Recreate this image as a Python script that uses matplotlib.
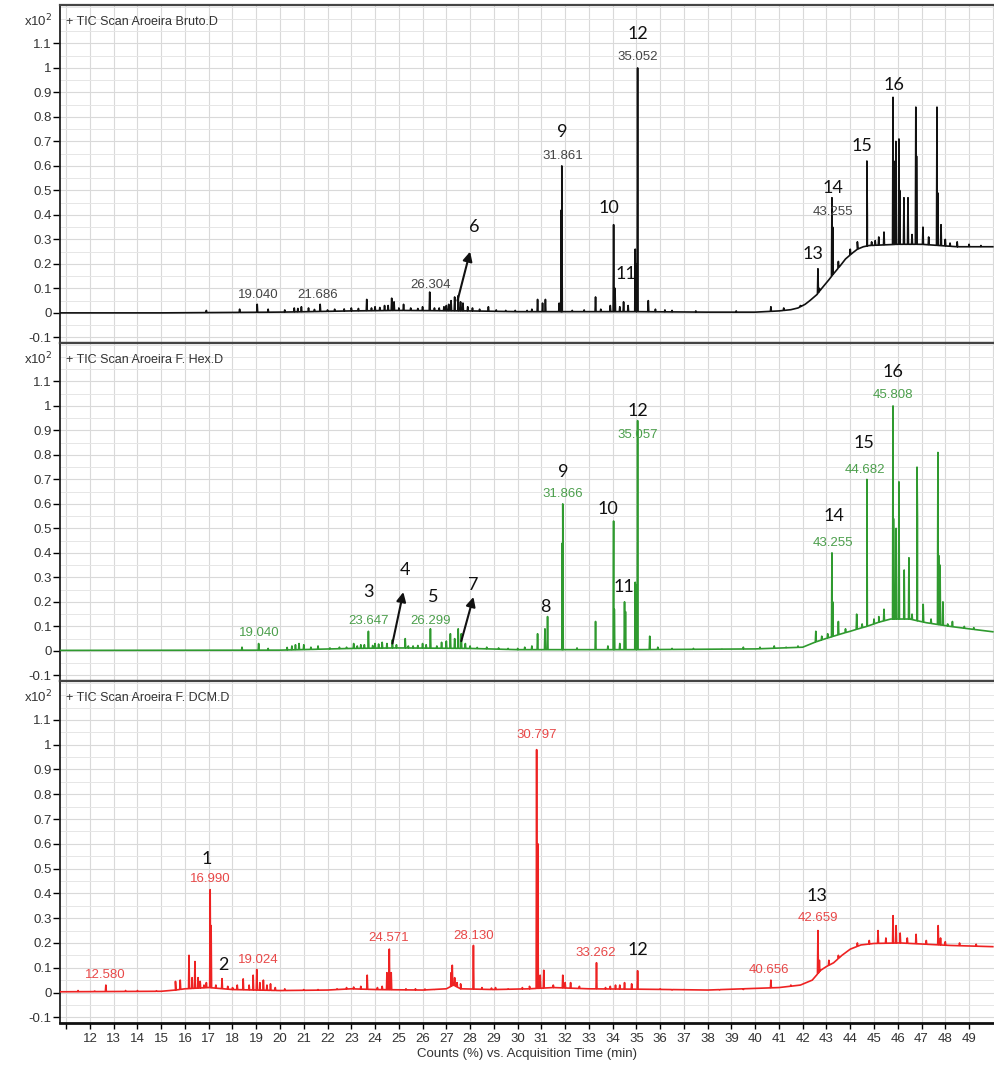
import numpy as np
import matplotlib
matplotlib.use("Agg")
import matplotlib.pyplot as plt
from matplotlib.ticker import MultipleLocator, FuncFormatter

plt.rcParams["font.family"] = ["Liberation Sans", "DejaVu Sans"]
plt.rcParams["axes.unicode_minus"] = False

# ---- data (retention time min, counts x10^2) ----
TITLES = ["+ TIC Scan Aroeira Bruto.D", "+ TIC Scan Aroeira F. Hex.D", "+ TIC Scan Aroeira F. DCM.D"]
COLORS = ["#111111", "#2f9a2f", "#ee2222"]
RT_COLORS = ["#444444", "#4c9f4c", "#e84848"]

bruto_base = [(10.74, 0.0), (15, 0.0), (20, 0.003), (23, 0.008), (25, 0.01), (28, 0.008),
              (30, 0.005), (35, 0.005), (38, 0.003), (40, 0.003), (41, 0.008), (41.5, 0.013),
              (41.8, 0.02), (42.1, 0.035), (42.3, 0.05), (42.6, 0.075), (42.8, 0.10),
              (43.1, 0.135), (43.3, 0.16), (43.6, 0.195), (43.8, 0.22), (44.1, 0.245),
              (44.3, 0.26), (44.55, 0.27), (44.8, 0.275), (46, 0.28), (47, 0.28),
              (48.5, 0.27), (50, 0.27)]
bruto_peaks = [(16.9, 0.01), (18.3, 0.015), (19.04, 0.035), (19.5, 0.015), (20.6, 0.02),
               (20.9, 0.025), (21.2, 0.02), (21.69, 0.035), (22.3, 0.015), (23.0, 0.02),
               (23.65, 0.055), (24.0, 0.025), (24.4, 0.03), (24.7, 0.06), (24.8, 0.045),
               (25.2, 0.035), (25.5, 0.02), (26.0, 0.025), (26.3, 0.085), (26.7, 0.02),
               (27.0, 0.03), (27.2, 0.05), (27.35, 0.065), (27.5, 0.07), (27.7, 0.04),
               (28.1, 0.02), (28.77, 0.025), (29.5, 0.01), (30.4, 0.01), (30.84, 0.055),
               (31.05, 0.04), (31.17, 0.055), (31.75, 0.04), (31.84, 0.42), (31.86, 0.60),
               (33.28, 0.065), (33.9, 0.03), (34.04, 0.36), (34.1, 0.1), (34.46, 0.045),
               (34.65, 0.03), (34.95, 0.26), (35.0, 0.2), (35.05, 1.0), (35.5, 0.05),
               (36.5, 0.01), (40.66, 0.025), (42.64, 0.18), (42.7, 0.1), (43.23, 0.47),
               (43.26, 0.35), (43.5, 0.21), (44.3, 0.29), (44.7, 0.62), (44.72, 0.38),
               (45.2, 0.31), (45.42, 0.33), (45.8, 0.88), (45.83, 0.62), (45.92, 0.70),
               (46.05, 0.71), (46.08, 0.5), (46.26, 0.47), (46.43, 0.47), (46.76, 0.84),
               (46.79, 0.64), (47.06, 0.35), (47.65, 0.84), (47.68, 0.49), (47.82, 0.36),
               (48.0, 0.3), (48.5, 0.29)]
bruto_grass = [(20.2, 0.012), (20.75, 0.018), (21.45, 0.014), (22.0, 0.012), (22.7, 0.016),
               (23.3, 0.018), (23.85, 0.02), (24.2, 0.022), (24.55, 0.03), (25.0, 0.02),
               (25.8, 0.018), (26.5, 0.02), (26.9, 0.025), (27.1, 0.035), (27.6, 0.045),
               (27.9, 0.025), (28.4, 0.015), (29.1, 0.012), (29.9, 0.01), (30.6, 0.015),
               (32.3, 0.01), (32.8, 0.012), (33.5, 0.015), (34.3, 0.025), (35.8, 0.015),
               (36.2, 0.012), (37.5, 0.008), (39.2, 0.008), (41.2, 0.02), (41.9, 0.03),
               (44.0, 0.26), (44.9, 0.29), (45.05, 0.295), (46.6, 0.32), (47.3, 0.31),
               (48.2, 0.285), (49.0, 0.28), (49.5, 0.275)]

hex_base = [(10.74, 0.002), (20, 0.003), (23, 0.01), (25, 0.012), (28, 0.01), (30, 0.005),
            (35, 0.005), (40, 0.008), (42, 0.015), (42.5, 0.035), (42.9, 0.048), (43.3, 0.06),
            (43.7, 0.072), (44.0, 0.08), (44.4, 0.092), (44.7, 0.10), (45.2, 0.117),
            (45.7, 0.13), (46.5, 0.13), (47.2, 0.115), (48.2, 0.10), (49, 0.09), (50, 0.078)]
hex_peaks = [(18.4, 0.015), (19.1, 0.03), (19.5, 0.01), (20.5, 0.02), (20.8, 0.03),
             (21.0, 0.025), (21.6, 0.02), (22.8, 0.015), (23.1, 0.03), (23.4, 0.025),
             (23.72, 0.08), (24.0, 0.03), (24.3, 0.035), (24.73, 0.045), (25.27, 0.05),
             (25.6, 0.02), (26.0, 0.03), (26.33, 0.09), (26.8, 0.035), (27.17, 0.07),
             (27.35, 0.05), (27.5, 0.09), (27.63, 0.07), (28.0, 0.02), (28.7, 0.015),
             (29.6, 0.01), (30.3, 0.015), (30.84, 0.07), (31.15, 0.09), (31.26, 0.14),
             (31.88, 0.44), (31.9, 0.60), (33.28, 0.12), (34.04, 0.53), (34.07, 0.17),
             (34.5, 0.20), (34.54, 0.16), (34.95, 0.28), (35.0, 0.27), (35.05, 0.94),
             (35.56, 0.06), (36.5, 0.01), (39.5, 0.015), (40.2, 0.015), (40.8, 0.02),
             (41.3, 0.015), (42.55, 0.08), (42.8, 0.06), (43.23, 0.40), (43.26, 0.20),
             (43.5, 0.12), (43.8, 0.09), (44.27, 0.15), (44.7, 0.70), (44.72, 0.20),
             (45.2, 0.14), (45.42, 0.17), (45.80, 1.00), (45.82, 0.54), (45.93, 0.50),
             (46.05, 0.69), (46.27, 0.33), (46.47, 0.38), (46.81, 0.75), (46.83, 0.54),
             (47.07, 0.19), (47.69, 0.81), (47.72, 0.39), (47.78, 0.35), (47.9, 0.2),
             (48.3, 0.12), (48.8, 0.1)]
hex_grass = [(20.3, 0.014), (20.65, 0.025), (21.3, 0.015), (22.1, 0.012), (22.5, 0.015),
             (23.25, 0.02), (23.55, 0.025), (23.9, 0.022), (24.15, 0.028), (24.5, 0.03),
             (24.9, 0.025), (25.4, 0.02), (25.8, 0.022), (26.15, 0.025), (26.6, 0.02),
             (27.0, 0.04), (27.8, 0.03), (28.3, 0.014), (29.2, 0.012), (30.0, 0.01),
             (30.6, 0.02), (32.5, 0.012), (33.8, 0.02), (34.3, 0.03), (35.9, 0.015),
             (37.4, 0.01), (38.6, 0.008), (41.8, 0.02), (43.05, 0.07), (44.5, 0.11),
             (45.0, 0.13), (46.6, 0.15), (47.4, 0.13), (48.1, 0.11), (49.2, 0.095)]

dcm_base = [(10.74, 0.003), (15, 0.005), (15.6, 0.01), (16, 0.015), (17, 0.02), (18, 0.012),
            (20, 0.008), (22, 0.01), (23, 0.015), (24, 0.012), (26, 0.01), (27.0, 0.015),
            (27.3, 0.03), (27.6, 0.015), (29, 0.012), (30.5, 0.015), (31.5, 0.02),
            (33, 0.015), (35.6, 0.013), (38, 0.01), (41.0, 0.02), (41.9, 0.03), (42.4, 0.05),
            (42.76, 0.09), (43.0, 0.105), (43.3, 0.12), (43.65, 0.15), (44.0, 0.175),
            (44.45, 0.192), (45.0, 0.198), (46.1, 0.20), (48.2, 0.19), (50, 0.185)]
dcm_peaks = [(12.67, 0.03), (13.5, 0.008), (15.6, 0.045), (15.8, 0.05), (16.17, 0.15),
             (16.3, 0.06), (16.42, 0.125), (16.64, 0.045), (16.8, 0.03), (17.06, 0.415),
             (17.1, 0.27), (17.56, 0.056), (18.0, 0.02), (18.45, 0.055), (18.7, 0.03),
             (18.87, 0.07), (19.02, 0.093), (19.3, 0.05), (19.6, 0.035), (20.2, 0.015),
             (22.8, 0.02), (23.67, 0.07), (24.1, 0.02), (24.5, 0.08), (24.6, 0.175),
             (24.68, 0.08), (25.3, 0.015), (26.5, 0.012), (27.2, 0.08), (27.25, 0.11),
             (27.45, 0.04), (28.14, 0.19), (28.5, 0.02), (29.07, 0.02), (29.6, 0.015),
             (30.5, 0.025), (30.8, 0.98), (30.85, 0.6), (30.95, 0.07), (31.1, 0.09),
             (31.5, 0.03), (31.9, 0.07), (32.23, 0.04), (33.32, 0.12), (33.7, 0.02),
             (34.12, 0.03), (34.5, 0.04), (35.05, 0.088), (36.5, 0.01), (39.5, 0.012),
             (40.66, 0.05), (42.64, 0.25), (42.7, 0.13), (45.17, 0.25), (45.8, 0.31),
             (45.93, 0.27), (46.1, 0.24), (46.77, 0.235), (47.7, 0.27), (47.8, 0.22)]
dcm_grass = [(11.5, 0.008), (12.2, 0.006), (14.0, 0.008), (14.8, 0.007), (16.55, 0.06),
             (16.9, 0.04), (17.3, 0.03), (17.8, 0.025), (18.2, 0.03), (19.15, 0.04),
             (19.45, 0.03), (19.8, 0.02), (21.0, 0.012), (21.6, 0.012), (22.4, 0.015),
             (23.1, 0.022), (23.4, 0.025), (24.3, 0.025), (25.7, 0.015), (26.1, 0.014),
             (27.35, 0.06), (27.6, 0.035), (28.9, 0.018), (30.2, 0.02), (32.0, 0.04),
             (32.6, 0.025), (33.9, 0.025), (34.3, 0.03), (34.8, 0.035), (36.0, 0.015),
             (37.0, 0.012), (38.5, 0.01), (41.5, 0.03), (43.1, 0.13), (43.5, 0.15),
             (44.3, 0.2), (44.8, 0.21), (45.5, 0.22), (46.4, 0.22), (47.2, 0.21),
             (48.0, 0.205), (48.6, 0.2), (49.3, 0.195)]

# retention time labels: (x, y, text)
bruto_rt = [(19.08, 0.075, "19.040"), (21.6, 0.075, "21.686"), (26.33, 0.115, "26.304"),
            (31.89, 0.64, "31.861"), (35.05, 1.045, "35.052"), (43.27, 0.41, "43.255")]
hex_rt = [(19.12, 0.075, "19.040"), (23.72, 0.12, "23.647"), (26.33, 0.12, "26.299"),
          (31.89, 0.64, "31.866"), (35.05, 0.88, "35.057"), (43.27, 0.44, "43.255"),
          (44.6, 0.74, "44.682"), (45.8, 1.045, "45.808")]
dcm_rt = [(12.63, 0.07, "12.580"), (17.06, 0.46, "16.990"), (19.08, 0.13, "19.024"),
          (24.56, 0.22, "24.571"), (28.14, 0.23, "28.130"), (30.8, 1.04, "30.797"),
          (33.28, 0.16, "33.262"), (40.57, 0.09, "40.656"), (42.64, 0.30, "42.659")]

# compound numbers: (x, y, text)
bruto_num = [(28.18, 0.35, "6"), (31.89, 0.74, "9"), (33.83, 0.43, "10"), (34.55, 0.16, "11"),
             (35.05, 1.14, "12"), (42.43, 0.24, "13"), (43.27, 0.51, "14"), (44.49, 0.68, "15"),
             (45.84, 0.93, "16")]
hex_num = [(23.72, 0.24, "3"), (25.27, 0.33, "4"), (26.45, 0.22, "5"), (28.14, 0.27, "7"),
           (31.17, 0.18, "8"), (31.93, 0.73, "9"), (33.79, 0.58, "10"), (34.46, 0.26, "11"),
           (35.05, 0.98, "12"), (43.31, 0.55, "14"), (44.58, 0.85, "15"), (45.8, 1.14, "16")]
dcm_num = [(16.93, 0.54, "1"), (17.6, 0.11, "2"), (35.05, 0.17, "12"), (42.6, 0.39, "13")]

# arrows: (tail x, tail y, head x, head y)
bruto_arrows = [(27.47, 0.05, 28.0, 0.25)]
hex_arrows = [(24.73, 0.03, 25.19, 0.24), (27.63, 0.04, 28.14, 0.22)]
dcm_arrows = []

PANELS = [
    (bruto_base, bruto_peaks + bruto_grass, bruto_rt, bruto_num, bruto_arrows),
    (hex_base, hex_peaks + hex_grass, hex_rt, hex_num, hex_arrows),
    (dcm_base, dcm_peaks + dcm_grass, dcm_rt, dcm_num, dcm_arrows),
]

XTICKS = list(range(11, 50))


def build_trace(base, peaks, w=0.02):
    bt = np.array([p[0] for p in base])
    by = np.array([p[1] for p in base])
    pts = list(zip(bt, by))
    for t, h in peaks:
        pts.append((t - w, np.interp(t - w, bt, by)))
        pts.append((t, h))
        pts.append((t + w, np.interp(t + w, bt, by)))
    pts.sort(key=lambda p: p[0])
    return np.array([p[0] for p in pts]), np.array([p[1] for p in pts])


fig = plt.figure(figsize=(9.94, 10.72), dpi=100)
W, H = 994.0, 1072.0
bounds = [(5, 343), (343, 681), (681, 1023)]
left, right = 60, 994

for i, (top, bot) in enumerate(bounds):
    ax = fig.add_axes([left / W, 1 - bot / H, (right - left) / W, (bot - top) / H])
    base, peaks, rts, nums, arrows = PANELS[i]
    x, y = build_trace(base, peaks)
    ax.plot(x, y, color=COLORS[i], lw=1.2, zorder=3)

    ax.set_xlim(10.74, 50.05)
    ax.set_ylim(-0.123, 1.257)
    ax.xaxis.set_major_locator(MultipleLocator(1))
    ax.yaxis.set_major_locator(MultipleLocator(0.1))
    ax.yaxis.set_minor_locator(MultipleLocator(0.05))
    ax.grid(True, which="major", color="#d9d9d9", lw=0.8, zorder=0)
    ax.grid(True, which="minor", axis="y", color="#e6e6e6", lw=0.7, zorder=0)
    ax.set_axisbelow(True)

    ax.set_yticks([v / 10 for v in range(-1, 12)])
    ax.yaxis.set_major_formatter(FuncFormatter(lambda v, p: "%g" % round(v, 2)))
    ax.tick_params(axis="y", which="major", direction="out", length=5, width=1,
                   labelsize=9.5, labelcolor="#333333", pad=1)
    ax.tick_params(axis="y", which="minor", length=0)

    ax.spines["right"].set_visible(False)
    ax.spines["left"].set_color("#222222")
    ax.spines["left"].set_linewidth(1.3)
    ax.spines["top"].set_color("#444444")
    ax.spines["top"].set_linewidth(1.6)
    ax.spines["bottom"].set_color("#444444")
    ax.spines["bottom"].set_linewidth(1.6)

    if i < 2:
        ax.tick_params(axis="x", which="both", length=0, labelbottom=False)
    else:
        ax.set_xticks(XTICKS)
        ax.set_xticklabels(["" if t == 11 else str(t) for t in XTICKS])
        ax.tick_params(axis="x", direction="out", length=4, width=1,
                       labelsize=9.5, labelcolor="#333333", pad=3)
        ax.spines["bottom"].set_color("#111111")
        ax.spines["bottom"].set_linewidth(2.0)
        ax.set_xlabel("Counts (%) vs. Acquisition Time (min)", fontsize=9.5,
                      color="#333333", labelpad=2)

    ax.text(0.006, 0.95, TITLES[i], transform=ax.transAxes, fontsize=9,
            color="#333333", va="center", ha="left")
    ax.text(-0.008, 0.952, r"x10$^{2}$", transform=ax.transAxes, fontsize=9.5,
            color="#333333", va="center", ha="right")

    for tx, ty, s in rts:
        ax.text(tx, ty, s, fontsize=9.5, color=RT_COLORS[i], ha="center", va="center",
                zorder=4)
    for tx, ty, s in nums:
        ax.text(tx, ty, s, fontsize=13, color="#111111", ha="center", va="center",
                family=["Lato", "DejaVu Sans"], zorder=4)
    for x0, y0, x1, y1 in arrows:
        ax.annotate("", xy=(x1, y1), xytext=(x0, y0),
                    arrowprops=dict(arrowstyle="-|>", color="#111111", lw=1.5,
                                    mutation_scale=14, shrinkA=0, shrinkB=0), zorder=5)

fig.savefig("out.png", dpi=100)
